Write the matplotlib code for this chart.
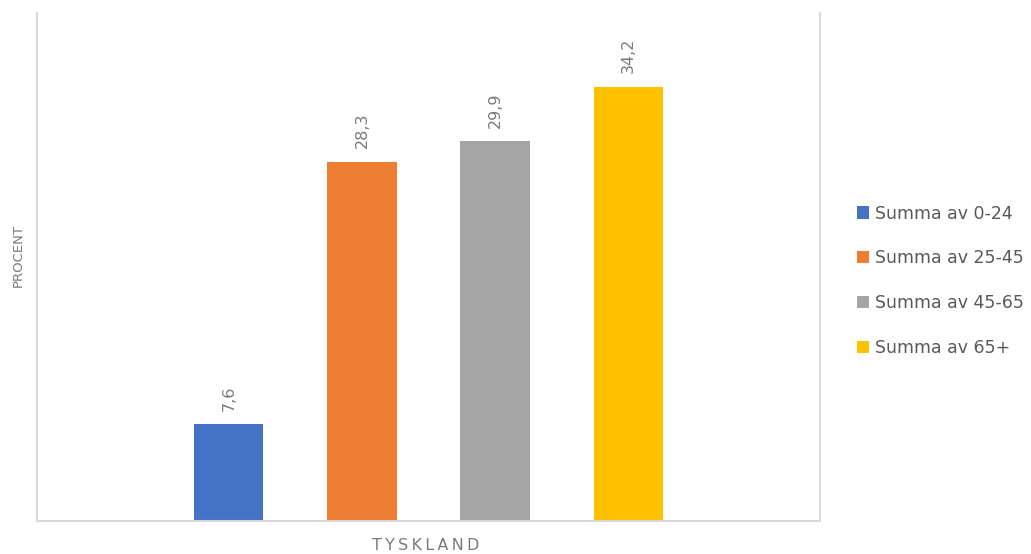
import matplotlib
matplotlib.use("Agg")
import matplotlib.pyplot as plt
from matplotlib.patches import Patch

# data
kategori = "TYSKLAND"
serier = ["Summa av 0-24", "Summa av 25-45", "Summa av 45-65", "Summa av 65+"]
varden = [7.6, 28.3, 29.9, 34.2]
farger = ["#4472C4", "#ED7D31", "#A5A5A5", "#FFC000"]

textgra = "#7a7a7a"
kantgra = "#d9d9d9"

fig = plt.figure(figsize=(10.31, 5.54), dpi=100)
ax = fig.add_axes([0.0359, 0.0596, 0.7594, 0.9169])

pos = range(len(varden))
bars = ax.bar(pos, varden, width=0.52, color=farger, zorder=2)

# etiketter ovanfor staplarna, roterade
for b, v in zip(bars, varden):
    ax.annotate(f"{v:.1f}".replace(".", ","),
                xy=(b.get_x() + b.get_width() / 2, v),
                xytext=(0, 9.5), textcoords="offset points",
                rotation=90, ha="center", va="bottom",
                fontsize=11.5, color=textgra)

ax.set_xlim(-1.44, 4.44)
ax.set_ylim(0, 40)
ax.set_xticks([])
ax.set_yticks([])

for s in ["left", "right", "bottom"]:
    ax.spines[s].set_color(kantgra)
    ax.spines[s].set_linewidth(1.5)
ax.spines["top"].set_visible(False)

fig.text(0.018, 0.538, "PROCENT", rotation=90, ha="center", va="center",
         fontsize=9.5, color=textgra)
fig.text(0.413, 0.015, "\u2009".join(kategori), ha="center", va="center",
         fontsize=11.5, color=textgra)

handles = [Patch(facecolor=c, edgecolor="none") for c in farger]
fig.legend(handles, serier, loc="center left", bbox_to_anchor=(0.831, 0.493),
           frameon=False, fontsize=12.5, labelcolor="#595959",
           handlelength=0.7, handleheight=0.7, handletextpad=0.35,
           labelspacing=1.55, borderpad=0, borderaxespad=0)

fig.savefig("out.png", dpi=100)
